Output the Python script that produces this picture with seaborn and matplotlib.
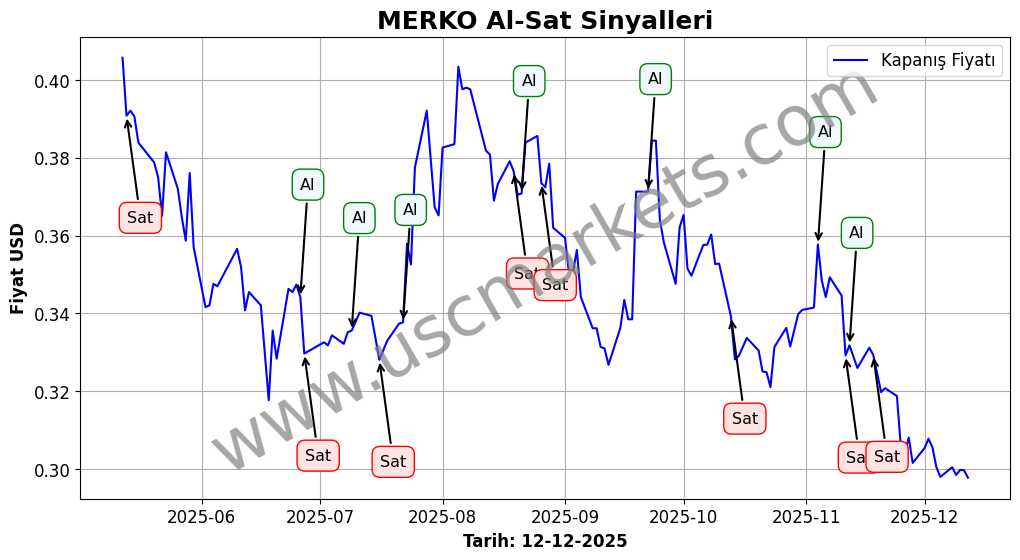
import pandas as pd
import seaborn as sns
import matplotlib.pyplot as plt

# closing prices (trading days)
dates = (
    ["2025-05-%02d" % d for d in [12, 13, 14, 15, 16, 20, 21, 22, 23, 26, 27, 28, 29, 30]]
    + ["2025-06-%02d" % d for d in [2, 3, 4, 5, 10, 11, 12, 13, 16, 18, 19, 20, 23, 24, 25, 26, 27]]
    + ["2025-07-%02d" % d for d in [2, 3, 4, 7, 8, 9, 11, 14, 16, 18, 21, 22, 23, 24, 25, 28, 30, 31]]
    + ["2025-08-%02d" % d for d in [1, 4, 5, 6, 7, 8, 12, 13, 14, 15, 18, 19, 20, 21, 22, 25, 26, 27, 28, 29]]
    + ["2025-09-%02d" % d for d in [1, 2, 3, 4, 5, 8, 9, 10, 11, 12, 15, 16, 17, 18, 19, 22, 23, 24, 25, 26, 29, 30]]
    + ["2025-10-%02d" % d for d in [1, 2, 3, 6, 7, 8, 9, 10, 13, 14, 15, 17, 20, 21, 22, 23, 24, 27, 28, 30, 31]]
    + ["2025-11-%02d" % d for d in [3, 4, 5, 6, 7, 10, 11, 12, 14, 17, 18, 20, 21, 24, 25, 26, 27, 28]]
    + ["2025-12-%02d" % d for d in [1, 2, 3, 4, 5, 8, 9, 10, 11, 12]]
)

prices = [
    0.4057, 0.3908, 0.3921, 0.3906, 0.3839, 0.3788, 0.3750, 0.3651, 0.3814, 0.3720, 0.3647, 0.3587, 0.3761, 0.3570,
    0.3416, 0.3421, 0.3476, 0.3470, 0.3566, 0.3519, 0.3408, 0.3455, 0.3421, 0.3177, 0.3356, 0.3284, 0.3463, 0.3455,
    0.3474, 0.3442, 0.3297,
    0.3326, 0.3318, 0.3344, 0.3322, 0.3352, 0.3356, 0.3402, 0.3394, 0.3281, 0.3330, 0.3374, 0.3377, 0.3579, 0.3526,
    0.3775, 0.3921, 0.3673, 0.3652,
    0.3826, 0.3835, 0.4034, 0.3976, 0.3980, 0.3976, 0.3818, 0.3808, 0.3690, 0.3733, 0.3791, 0.3765, 0.3705, 0.3708,
    0.3839, 0.3856, 0.3735, 0.3724, 0.3785, 0.3620,
    0.3594, 0.3502, 0.3506, 0.3563, 0.3442, 0.3362, 0.3362, 0.3314, 0.3310, 0.3268, 0.3363, 0.3435, 0.3385, 0.3385,
    0.3713, 0.3713, 0.3844, 0.3844, 0.3641, 0.3583, 0.3476, 0.3621,
    0.3653, 0.3515, 0.3497, 0.3576, 0.3577, 0.3603, 0.3527, 0.3528, 0.3392, 0.3282, 0.3291, 0.3337, 0.3305, 0.3251,
    0.3249, 0.3211, 0.3314, 0.3363, 0.3315, 0.3398, 0.3409,
    0.3415, 0.3577, 0.3484, 0.3442, 0.3493, 0.3446, 0.3292, 0.3318, 0.3260, 0.3312, 0.3294, 0.3198, 0.3208, 0.3188,
    0.3058, 0.3044, 0.3081, 0.3016,
    0.3054, 0.3078, 0.3056, 0.3005, 0.2980, 0.3005, 0.2985, 0.2998, 0.2997, 0.2978,
]

buy_dates = ["2025-06-26", "2025-07-09", "2025-07-22", "2025-08-21", "2025-09-22", "2025-11-04", "2025-11-12"]
sell_dates = ["2025-05-13", "2025-06-27", "2025-07-16", "2025-08-19", "2025-08-26", "2025-10-13", "2025-11-11",
              "2025-11-18"]

df = pd.DataFrame({"Tarih": pd.to_datetime(dates), "Fiyat": prices})
price_at = dict(zip(df["Tarih"], df["Fiyat"]))

fig, ax = plt.subplots(figsize=(12, 6))
sns.lineplot(data=df, x="Tarih", y="Fiyat", color="blue", linewidth=1.5, label="Kapanış Fiyatı", ax=ax)

for d in buy_dates:
    t = pd.Timestamp(d)
    ax.annotate("Al", xy=(t, price_at[t]), xytext=(5.5, 81), textcoords="offset points",
                ha="center", va="center", fontsize=11.5,
                bbox=dict(boxstyle="round,pad=0.5", fc="aliceblue", ec="green"),
                arrowprops=dict(arrowstyle="->", color="black", lw=1.5))

for d in sell_dates:
    t = pd.Timestamp(d)
    ax.annotate("Sat", xy=(t, price_at[t]), xytext=(10, -73.5), textcoords="offset points",
                ha="center", va="center", fontsize=11.5,
                bbox=dict(boxstyle="round,pad=0.5", fc="mistyrose", ec="red"),
                arrowprops=dict(arrowstyle="->", color="black", lw=1.5))

ax.text(0.5, 0.5, "www.uscmarkets.com", transform=ax.transAxes, fontsize=50, color="gray",
        alpha=0.7, rotation=30, ha="center", va="center")

ax.set_title("MERKO Al-Sat Sinyalleri", fontsize=18, fontweight="bold")
ax.set_xlabel("Tarih: 12-12-2025", fontsize=12, fontweight="bold")
ax.set_ylabel("Fiyat USD", fontsize=12, fontweight="bold")
ax.tick_params(labelsize=12)
ax.legend(loc="upper right", fontsize=12)
ax.grid(True)

plt.savefig("out.png", dpi=100, bbox_inches="tight")
